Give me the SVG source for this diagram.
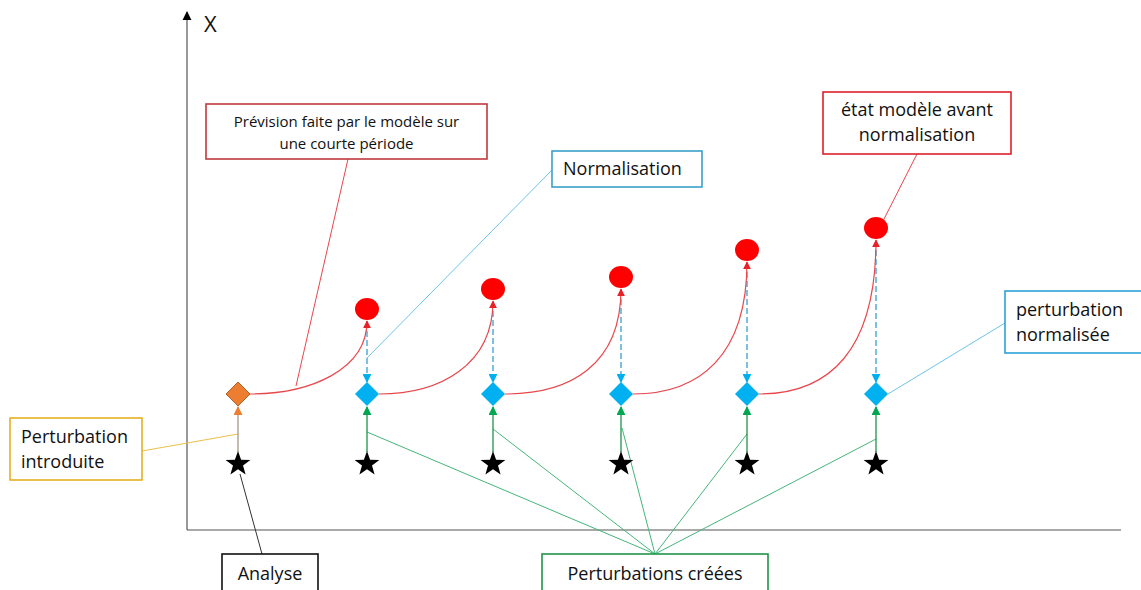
<svg xmlns="http://www.w3.org/2000/svg" width="1141" height="590" viewBox="0 0 1141 590">
<defs>
<style>
text{font-family:"Open Sans","Liberation Sans",Arial,sans-serif;fill:#111;}
.lbl{font-size:18px;}
.sm{font-size:15px;}
.box{fill:#fff;stroke-width:1.6;}
.curve{fill:none;stroke:#E8474C;stroke-width:1.2;}
.dash{fill:none;stroke:#3A9FD0;stroke-width:1.3;stroke-dasharray:6 3;}
.up{fill:none;stroke:#1E9448;stroke-width:1.3;}
.star{fill:#000;}
.dia{fill:#00B0F0;}
.circ{fill:#FF0000;}
.lead{fill:none;stroke-width:1;}
</style>
<marker id="mRed" viewBox="0 0 10 10" refX="9" refY="5" markerWidth="8" markerHeight="8" markerUnits="userSpaceOnUse" orient="auto"><path d="M0,0 L10,5 L0,10 Z" fill="#E8202A"/></marker>
<marker id="mBlue" viewBox="0 0 10 10" refX="9" refY="5" markerWidth="9" markerHeight="9" markerUnits="userSpaceOnUse" orient="auto"><path d="M0,0 L10,5 L0,10 Z" fill="#00B0F0"/></marker>
<marker id="mGreen" viewBox="0 0 10 10" refX="9" refY="5" markerWidth="9" markerHeight="9" markerUnits="userSpaceOnUse" orient="auto"><path d="M0,0 L10,5 L0,10 Z" fill="#00A650"/></marker>
<marker id="mOrange" viewBox="0 0 10 10" refX="9" refY="5" markerWidth="9" markerHeight="9" markerUnits="userSpaceOnUse" orient="auto"><path d="M0,0 L10,5 L0,10 Z" fill="#ED7D31"/></marker>
<marker id="mBlack" viewBox="0 0 10 10" refX="9" refY="5" markerWidth="9" markerHeight="10" markerUnits="userSpaceOnUse" orient="auto"><path d="M0,0 L10,5 L0,10 Z" fill="#000"/></marker>
<path id="starShape" d="M0,-13 L3.1,-4.2 L12.4,-4 L5,1.6 L7.6,10.5 L0,5.2 L-7.6,10.5 L-5,1.6 L-12.4,-4 L-3.1,-4.2 Z"/>
</defs>

<g id="axes">
<line x1="187" y1="530" x2="187" y2="12" stroke="#555" stroke-width="1.2" marker-end="url(#mBlack)"/>
<line x1="187" y1="530" x2="1121" y2="530" stroke="#555" stroke-width="1.2"/>
<text x="204" y="32" style="font-size:22px">X</text>
</g>

<g id="connectors">
<line class="lead" x1="296" y1="386" x2="348" y2="159" stroke="#E8474C"/>
<line class="lead" x1="367" y1="358" x2="552" y2="170" stroke="#6CC4E8"/>
<line class="lead" x1="883" y1="221" x2="917" y2="154" stroke="#E8474C"/>
<line class="lead" x1="888" y1="394" x2="1005" y2="323" stroke="#6CC4E8"/>
<line class="lead" x1="142" y1="451" x2="238" y2="434" stroke="#EAC04A"/>
<line class="lead" x1="240" y1="474" x2="262" y2="554" stroke="#333"/>
<g stroke="#45B57A">
<line class="lead" x1="367" y1="432" x2="655" y2="554"/>
<line class="lead" x1="493" y1="429" x2="655" y2="554"/>
<line class="lead" x1="622" y1="428" x2="655" y2="554"/>
<line class="lead" x1="747" y1="434" x2="655" y2="554"/>
<line class="lead" x1="876" y1="439" x2="655" y2="554"/>
</g>
<line x1="238" y1="452" x2="238" y2="407" stroke="#B3A496" stroke-width="1.5" marker-end="url(#mOrange)"/>
<line class="up" x1="367" y1="452" x2="367" y2="407" marker-end="url(#mGreen)"/>
<line class="up" x1="493" y1="452" x2="493" y2="407" marker-end="url(#mGreen)"/>
<line class="up" x1="621" y1="452" x2="621" y2="407" marker-end="url(#mGreen)"/>
<line class="up" x1="747" y1="452" x2="747" y2="407" marker-end="url(#mGreen)"/>
<line class="up" x1="876" y1="452" x2="876" y2="407" marker-end="url(#mGreen)"/>
<line class="dash" x1="367" y1="322" x2="367" y2="382" marker-end="url(#mBlue)"/>
<line class="dash" x1="493" y1="302" x2="493" y2="382" marker-end="url(#mBlue)"/>
<line class="dash" x1="621" y1="290" x2="621" y2="382" marker-end="url(#mBlue)"/>
<line class="dash" x1="747" y1="263" x2="747" y2="382" marker-end="url(#mBlue)"/>
<line class="dash" x1="876" y1="241" x2="876" y2="382" marker-end="url(#mBlue)"/>
<path class="curve" d="M250,394 C310,394 367,370 367,321" marker-end="url(#mRed)"/>
<path class="curve" d="M379,394 C440,394 493,365 493,301" marker-end="url(#mRed)"/>
<path class="curve" d="M505,394 C570,394 621,365 621,289" marker-end="url(#mRed)"/>
<path class="curve" d="M633,394 C700,394 747,355 747,262" marker-end="url(#mRed)"/>
<path class="curve" d="M759,394 C830,394 876,350 876,240" marker-end="url(#mRed)"/>
</g>

<g id="stars">
<use href="#starShape" class="star" x="238" y="464"/>
<use href="#starShape" class="star" x="367" y="464"/>
<use href="#starShape" class="star" x="493" y="464"/>
<use href="#starShape" class="star" x="621" y="464"/>
<use href="#starShape" class="star" x="747" y="464"/>
<use href="#starShape" class="star" x="876" y="464"/>
</g>

<g id="diamonds">
<path d="M238,382 L250,394 L238,406 L226,394 Z" fill="#ED7D31" stroke="#B0612A" stroke-width="1"/>
<path class="dia" d="M367,382 L379,394 L367,406 L355,394 Z"/>
<path class="dia" d="M493,382 L505,394 L493,406 L481,394 Z"/>
<path class="dia" d="M621,382 L633,394 L621,406 L609,394 Z"/>
<path class="dia" d="M747,382 L759,394 L747,406 L735,394 Z"/>
<path class="dia" d="M876,382 L888,394 L876,406 L864,394 Z"/>
</g>

<g id="circles">
<ellipse class="circ" cx="367" cy="309" rx="12" ry="11"/>
<ellipse class="circ" cx="493" cy="289" rx="12" ry="11"/>
<ellipse class="circ" cx="621" cy="277" rx="12" ry="11"/>
<ellipse class="circ" cx="747" cy="250" rx="12" ry="11"/>
<ellipse class="circ" cx="876" cy="228" rx="12" ry="11"/>
</g>

<g id="label-prevision">
<rect class="box" x="206" y="104" width="281" height="55" stroke="#C0393F"/>
<text class="sm" x="346.5" y="127" text-anchor="middle">Prévision faite par le modèle sur</text>
<text class="sm" x="346.5" y="149" text-anchor="middle">une courte période</text>
</g>

<g id="label-normalisation">
<rect class="box" x="552" y="151" width="150" height="36" stroke="#3AA0C8"/>
<text class="lbl" x="563" y="175">Normalisation</text>
</g>

<g id="label-etat">
<rect class="box" x="823" y="92" width="188" height="62" stroke="#E0202A"/>
<text class="lbl" x="917" y="116" text-anchor="middle">état modèle avant</text>
<text class="lbl" x="917" y="141" text-anchor="middle">normalisation</text>
</g>

<g id="label-perturbation-normalisee">
<rect class="box" x="1005" y="291" width="140" height="62" stroke="#2AA3D6"/>
<text class="lbl" x="1016" y="316">perturbation</text>
<text class="lbl" x="1016" y="341">normalisée</text>
</g>

<g id="label-perturbation-introduite">
<rect class="box" x="10" y="418" width="132" height="62" stroke="#E6B020"/>
<text class="lbl" x="21" y="443">Perturbation</text>
<text class="lbl" x="21" y="468">introduite</text>
</g>

<g id="label-analyse">
<rect class="box" x="222" y="554" width="96" height="40" stroke="#111"/>
<text class="lbl" x="270" y="580" text-anchor="middle">Analyse</text>
</g>

<g id="label-perturbations-creees">
<rect class="box" x="542" y="554" width="226" height="40" stroke="#1E9448"/>
<text class="lbl" x="655" y="580" text-anchor="middle">Perturbations créées</text>
</g>
</svg>
